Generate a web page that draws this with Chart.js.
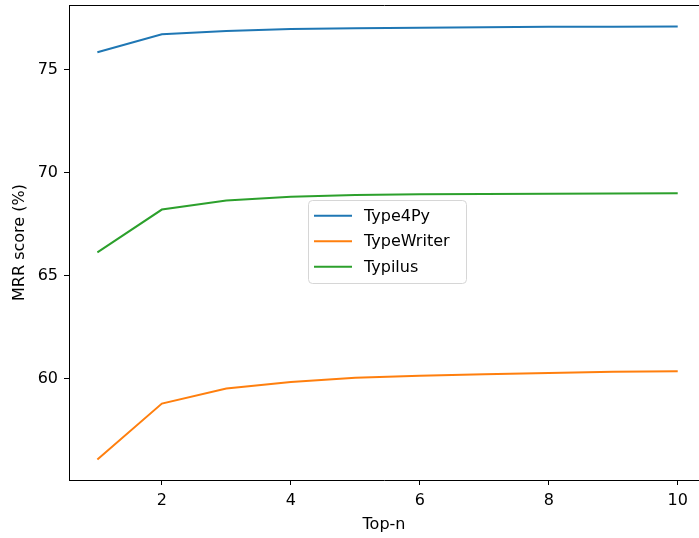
<!DOCTYPE html>
<html>
<head>
<meta charset="utf-8">
<script src="https://cdn.jsdelivr.net/npm/chart.js@4/dist/chart.umd.min.js"></script>
<style>
  html, body { margin: 0; padding: 0; background: #fff; }
  #wrap { width: 699px; height: 538px; }
</style>
</head>
<body>
<div id="wrap"><canvas id="chart" width="699" height="538"></canvas></div>
<script>
// valeurs
const topN = [1, 2, 3, 4, 5, 6, 7, 8, 9, 10];
const type4py = [75.83, 76.7, 76.86, 76.95, 76.99, 77.02, 77.04, 77.06, 77.07, 77.08];
const typeWriter = [56.06, 58.77, 59.5, 59.82, 60.02, 60.12, 60.19, 60.26, 60.32, 60.34];
const typilus = [66.11, 68.19, 68.63, 68.81, 68.89, 68.93, 68.95, 68.96, 68.97, 68.98];
const xTicks = [2, 4, 6, 8, 10];
const yTicks = [60, 65, 70, 75];

const FONT = 'DejaVu Sans';

function pts(ys) {
    return topN.map((x, i) => ({ x: x, y: ys[i] }));
}

function noPad(s) {
    s.paddingTop = 0; s.paddingBottom = 0;
    s.paddingLeft = 0; s.paddingRight = 0;
}

// cadre du haut + légende façon matplotlib
const frameAndLegend = {
    id: 'frameAndLegend',
    afterDraw(chart) {
        const c = chart.ctx;
        const a = chart.chartArea;
        c.save();
        c.strokeStyle = '#000';
        c.lineWidth = 1;
        c.beginPath();
        c.moveTo(a.left, a.top + 0.5);
        c.lineTo(a.right + 2, a.top + 0.5);
        c.stroke();

        // légende
        const lx = 308.5, ly = 200.5, lw = 158, lh = 83, r = 4;
        c.fillStyle = 'rgba(255,255,255,0.8)';
        c.strokeStyle = '#d6d6d6';
        c.beginPath();
        c.roundRect(lx, ly, lw, lh, r);
        c.fill();
        c.stroke();
        c.font = '16px "' + FONT + '"';
        c.textBaseline = 'middle';
        c.textAlign = 'left';
        chart.data.datasets.forEach((ds, i) => {
            const y = 215.7 + i * 25.5;
            c.strokeStyle = ds.borderColor;
            c.lineWidth = 2;
            c.beginPath();
            c.moveTo(314, y);
            c.lineTo(352, y);
            c.stroke();
            c.fillStyle = '#000';
            c.fillText(ds.label, 364, y + 1);
        });
        c.restore();
    }
};

const ctx = document.getElementById('chart').getContext('2d');

const chart = new Chart(ctx, {
    type: 'line',
    data: {
        datasets: [
            { label: 'Type4Py', data: pts(type4py), borderColor: '#1f77b4' },
            { label: 'TypeWriter', data: pts(typeWriter), borderColor: '#ff7f0e' },
            { label: 'Typilus', data: pts(typilus), borderColor: '#2ca02c' }
        ]
    },
    options: {
        responsive: false,
        animation: false,
        layout: { padding: { top: 5, right: 0, left: 0, bottom: 0 } },
        elements: {
            line: { borderWidth: 2, tension: 0, fill: false },
            point: { radius: 0 }
        },
        plugins: {
            legend: { display: false },
            tooltip: { enabled: false }
        },
        scales: {
            x: {
                type: 'linear',
                min: 0.56,
                max: 10.33,
                afterFit(s) { s.height = 58; noPad(s); },
                afterBuildTicks(s) { s.ticks = xTicks.map(v => ({ value: v })); },
                grid: { drawOnChartArea: false, tickLength: 5, tickColor: '#000' },
                border: { display: true, color: '#000', width: 1 },
                ticks: { color: '#000', font: { family: FONT, size: 16 }, padding: 6, maxRotation: 0 },
                title: { display: true, text: 'Top-n', color: '#000', font: { family: FONT, size: 16 }, padding: { top: 0, bottom: 4 } }
            },
            y: {
                min: 55.06,
                max: 78.12,
                afterFit(s) { s.width = 69; noPad(s); },
                afterBuildTicks(s) { s.ticks = yTicks.map(v => ({ value: v })); },
                grid: { drawOnChartArea: false, tickLength: 5, tickColor: '#000' },
                border: { display: true, color: '#000', width: 1 },
                ticks: { color: '#000', font: { family: FONT, size: 16 }, padding: 6, labelOffset: 1 },
                title: { display: true, text: 'MRR score (%)', color: '#000', font: { family: FONT, size: 16 }, padding: { top: 10, bottom: 0 } }
            }
        }
    },
    plugins: [frameAndLegend]
});
</script>
</body>
</html>
